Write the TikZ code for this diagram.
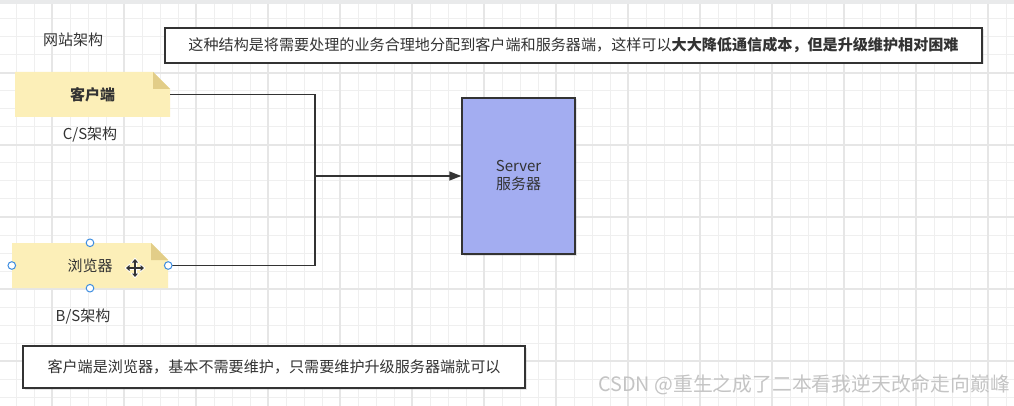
\documentclass[tikz,border=0pt]{standalone}
\usepackage{fontspec}
\setmainfont{Noto Sans CJK SC}
\usetikzlibrary{arrows.meta,shadows}
\definecolor{ink}{HTML}{333333}
\definecolor{gridminor}{HTML}{EFEFEF}
\definecolor{gridmajor}{HTML}{E6E6E6}
\definecolor{band}{HTML}{E9EAEB}
\definecolor{notefill}{HTML}{FCEFB8}
\definecolor{notefold}{HTML}{E2CD88}
\definecolor{serverfill}{HTML}{A3ADF1}
\definecolor{handleblue}{HTML}{3D8DE0}
\definecolor{wmgray}{HTML}{C4C4C4}
\tikzset{
  lbl/.style={text=ink, font=\fontsize{15}{17}\selectfont, inner sep=0pt},
  textbox/.style={draw=ink, line width=1.5pt, fill=white, text=ink,
    font=\fontsize{15.1}{17}\selectfont, inner sep=0pt,
    drop shadow={shadow xshift=1.5pt, shadow yshift=-1.5pt, opacity=0.2}},
  notebox/.style={minimum width=155pt, minimum height=45pt, inner sep=0pt,
    text=ink, font=\fontsize{15}{17}\selectfont,
    path picture={
      \fill[notefill] (path picture bounding box.north west)
        -- ([xshift=-17pt]path picture bounding box.north east)
        -- ([yshift=-17pt]path picture bounding box.north east)
        -- (path picture bounding box.south east)
        -- (path picture bounding box.south west) -- cycle;
      \fill[notefold] ([xshift=-17pt]path picture bounding box.north east)
        -- ([xshift=-17pt,yshift=-17pt]path picture bounding box.north east)
        -- ([yshift=-17pt]path picture bounding box.north east) -- cycle;
    }},
  serverbox/.style={draw=ink, line width=1.5pt, fill=serverfill, text=ink,
    minimum width=113pt, minimum height=156pt, align=center,
    font=\fontsize{15}{18}\selectfont,
    drop shadow={shadow xshift=1.5pt, shadow yshift=-1.5pt, opacity=0.2}},
  wire/.style={draw=ink, line width=1.6pt},
  handle/.style={draw=handleblue, fill=white, line width=1pt},
  watermark/.style={text=wmgray, font=\fontsize{19.8}{22}\selectfont, inner sep=0pt},
}
\begin{document}
\begin{tikzpicture}[x=1pt,y=-1pt]
\useasboundingbox (0,0) rectangle (1014,406);
\fill[white] (0,0) rectangle (1014,406);
% background grid
\foreach \x in {16,34,...,1014} \draw[gridminor, line width=1pt] (\x,4) -- (\x,406);
\foreach \y in {19,37,...,406} \draw[gridminor, line width=1pt] (0,\y) -- (1014,\y);
\foreach \x in {52,124,...,1014} \draw[gridmajor, line width=1.1pt] (\x,4) -- (\x,406);
\foreach \y in {73,145,...,406} \draw[gridmajor, line width=1.1pt] (0,\y) -- (1014,\y);
\fill[band] (0,0) rectangle (1014,4);

% labels and text boxes
\node[lbl] (title) at (73,40) {网站架构};
\node[textbox, minimum width=817pt, minimum height=35pt] (desc) at (573.5,45.5)
  {这种结构是将需要处理的业务合理地分配到客户端和服务器端，这样可以\textbf{大大降低通信成本，但是升级维护相对困难}};

% client notes
\node[notebox] (client) at (92.5,94.5) {\textbf{客户端}};
\node[lbl] (cs) at (90,135) {C/S架构};
\node[notebox, minimum width=156pt] (browser) at (90,265.5) {浏览器};
\node[lbl] (bs) at (83,317) {B/S架构};

% server
\node[serverbox] (server) at (518.5,176) {Server\\服务器};

% connectors
\path (server.west) ++(-146,0) coordinate (j);
\draw[wire] (client.east) -| (j);
\draw[wire] (browser.east) -| (j);
\draw[wire, -{Triangle[length=12pt,width=9pt]}] (j) -- (server.west);

% selection handles around the browser note
\foreach \a in {north,south,east,west}
  \draw[handle] (browser.\a) circle[radius=3.8pt];

% move cursor
\begin{scope}[shift={(135,268)}]
  \draw[white, line width=3pt] (-7,0) -- (7,0) (0,-7) -- (0,7);
  \foreach \r in {0,90,180,270}
    \fill[white, rotate=\r] (10.5,0) -- (5,-4.5) -- (5,4.5) -- cycle;
  \draw[ink, line width=1.2pt] (-6,0) -- (6,0) (0,-6) -- (0,6);
  \foreach \r in {0,90,180,270}
    \fill[ink, rotate=\r] (9,0) -- (5.5,-3) -- (5.5,3) -- cycle;
\end{scope}

% bottom note
\node[textbox, minimum width=502pt, minimum height=42pt] (summary) at (274,367)
  {客户端是浏览器，基本不需要维护，只需要维护升级服务器端就可以};

% watermark
\node[watermark, anchor=east] (wm) at (1010,385) {CSDN @重生之成了二本看我逆天改命走向巅峰};
\end{tikzpicture}
\end{document}
